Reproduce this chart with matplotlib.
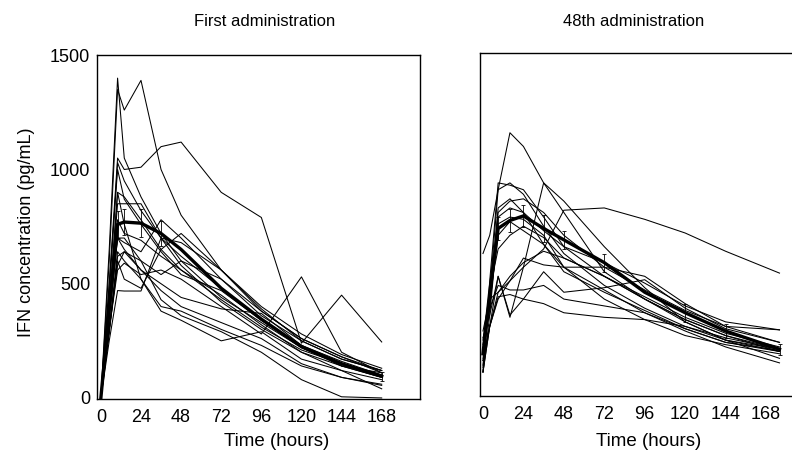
import matplotlib
matplotlib.use('Agg')
import matplotlib.pyplot as plt
import numpy as np

plt.rcParams['font.family'] = ['Liberation Sans', 'DejaVu Sans']

# sampling times (hours)
t_first = [0, 5, 10, 14, 24, 36, 48, 72, 96, 120, 144, 168]
t_48th = [0, 4, 9, 16, 24, 36, 48, 72, 96, 120, 144, 176]

# individual patients, first administration (pg/mL)
first_patients = [
    [0, 650, 1400, 1050, 880, 720, 600, 440, 330, 220, 150, 100],
    [0, 600, 1350, 1260, 1390, 1000, 800, 560, 380, 260, 180, 120],
    [0, 500, 1050, 1000, 1010, 1100, 1120, 900, 790, 240, 450, 245],
    [0, 450, 1030, 950, 820, 700, 620, 480, 340, 220, 140, 90],
    [0, 400, 900, 880, 780, 650, 560, 430, 310, 210, 150, 100],
    [0, 380, 850, 850, 850, 700, 580, 420, 300, 200, 140, 110],
    [0, 350, 700, 680, 640, 780, 700, 520, 360, 250, 170, 120],
    [0, 300, 600, 520, 480, 650, 720, 560, 400, 280, 190, 130],
    [0, 250, 470, 468, 468, 700, 680, 560, 390, 250, 170, 120],
    [0, 300, 640, 600, 520, 380, 340, 250, 290, 170, 120, 80],
    [0, 280, 620, 640, 600, 430, 360, 290, 200, 80, 5, 0],
    [0, 300, 560, 590, 540, 560, 520, 400, 280, 530, 200, 110],
    [0, 350, 700, 650, 560, 470, 400, 330, 260, 150, 90, 55],
    [0, 400, 900, 760, 520, 400, 380, 300, 230, 140, 90, 60],
    [0, 300, 580, 640, 560, 500, 440, 390, 370, 230, 140, 90],
    [0, 500, 1000, 870, 760, 640, 540, 470, 340, 230, 160, 100],
    [0, 450, 700, 700, 600, 540, 600, 520, 380, 260, 180, 110],
    [0, 420, 780, 720, 690, 620, 560, 450, 320, 200, 120, 40],
]
first_mean = [0, 390, 760, 770, 765, 720, 650, 480, 345, 225, 150, 95]
first_se = [0, 0, 60, 55, 60, 55, 0, 0, 0, 0, 0, 20]

# individual patients, 48th administration (pg/mL)
last_patients = [
    [620, 700, 900, 1150, 1090, 930, 800, 540, 420, 330, 260, 200],
    [150, 300, 450, 500, 560, 640, 810, 820, 770, 710, 630, 534],
    [150, 300, 520, 340, 560, 930, 850, 650, 470, 320, 240, 190],
    [100, 500, 930, 920, 900, 780, 650, 520, 420, 330, 260, 190],
    [120, 450, 900, 930, 880, 740, 620, 480, 380, 300, 250, 200],
    [200, 400, 800, 850, 860, 800, 700, 560, 460, 370, 300, 285],
    [180, 380, 780, 820, 800, 720, 650, 580, 490, 390, 320, 285],
    [100, 350, 750, 780, 770, 700, 560, 420, 330, 260, 220, 180],
    [100, 300, 430, 440, 420, 400, 360, 340, 330, 300, 240, 200],
    [250, 350, 520, 350, 420, 540, 450, 470, 505, 380, 290, 230],
    [100, 300, 420, 500, 600, 570, 560, 560, 520, 400, 300, 230],
    [280, 420, 450, 520, 580, 630, 600, 520, 420, 320, 240, 160],
    [160, 400, 700, 760, 720, 660, 560, 460, 360, 280, 210, 140],
    [220, 380, 480, 460, 460, 480, 420, 390, 360, 290, 230, 190],
    [130, 420, 820, 860, 800, 660, 540, 450, 370, 290, 230, 195],
    [240, 460, 640, 700, 740, 690, 600, 520, 430, 340, 270, 210],
]
last_mean = [180, 450, 730, 765, 785, 730, 680, 580, 450, 360, 280, 200]
last_se = [0, 0, 50, 50, 50, 60, 40, 40, 0, 40, 30, 25]

fig = plt.figure(figsize=(7.92, 4.53), dpi=100)
ax1 = fig.add_axes([0.1225, 0.119, 0.408, 0.759])
ax2 = fig.add_axes([0.606, 0.126, 0.408, 0.757])

for ax, t, patients, mean, se in [(ax1, t_first, first_patients, first_mean, first_se),
                                  (ax2, t_48th, last_patients, last_mean, last_se)]:
    for p in patients:
        ax.plot(t, p, color='black', lw=0.75)
    ax.plot(t, mean, color='black', lw=2.4)
    t_a = np.array(t)
    m_a = np.array(mean)
    s_a = np.array(se)
    keep = s_a > 0
    ax.errorbar(t_a[keep], m_a[keep], yerr=s_a[keep], fmt='none', ecolor='black',
                elinewidth=0.6, capsize=1.5, capthick=0.6)
    ax.set_ylim(-5, 1500)
    ax.set_xticks(range(0, 169, 24))
    ax.tick_params(length=0, labelsize=13, pad=7)
    for s in ax.spines.values():
        s.set_linewidth(1.0)

ax1.set_xlim(-2.3, 191)
ax2.set_xlim(-1.8, 190)
ax1.set_yticks([0, 500, 1000, 1500])
ax1.tick_params(axis='y', pad=5)
ax2.set_yticks([])

fig.text(277 / 792, 1 - 441 / 453, 'Time (hours)', ha='center', va='center', fontsize=13.5)
fig.text(649 / 792, 1 - 441 / 453, 'Time (hours)', ha='center', va='center', fontsize=13.5)
fig.text(27 / 792, 1 - 232 / 453, 'IFN concentration (pg/mL)', ha='center', va='center',
         rotation=90, fontsize=13)
fig.text(265 / 792, 1 - 21 / 453, 'First administration', ha='center', va='center', fontsize=12)
fig.text(634 / 792, 1 - 21 / 453, '48th administration', ha='center', va='center', fontsize=12)

fig.savefig('out.png', dpi=100)
